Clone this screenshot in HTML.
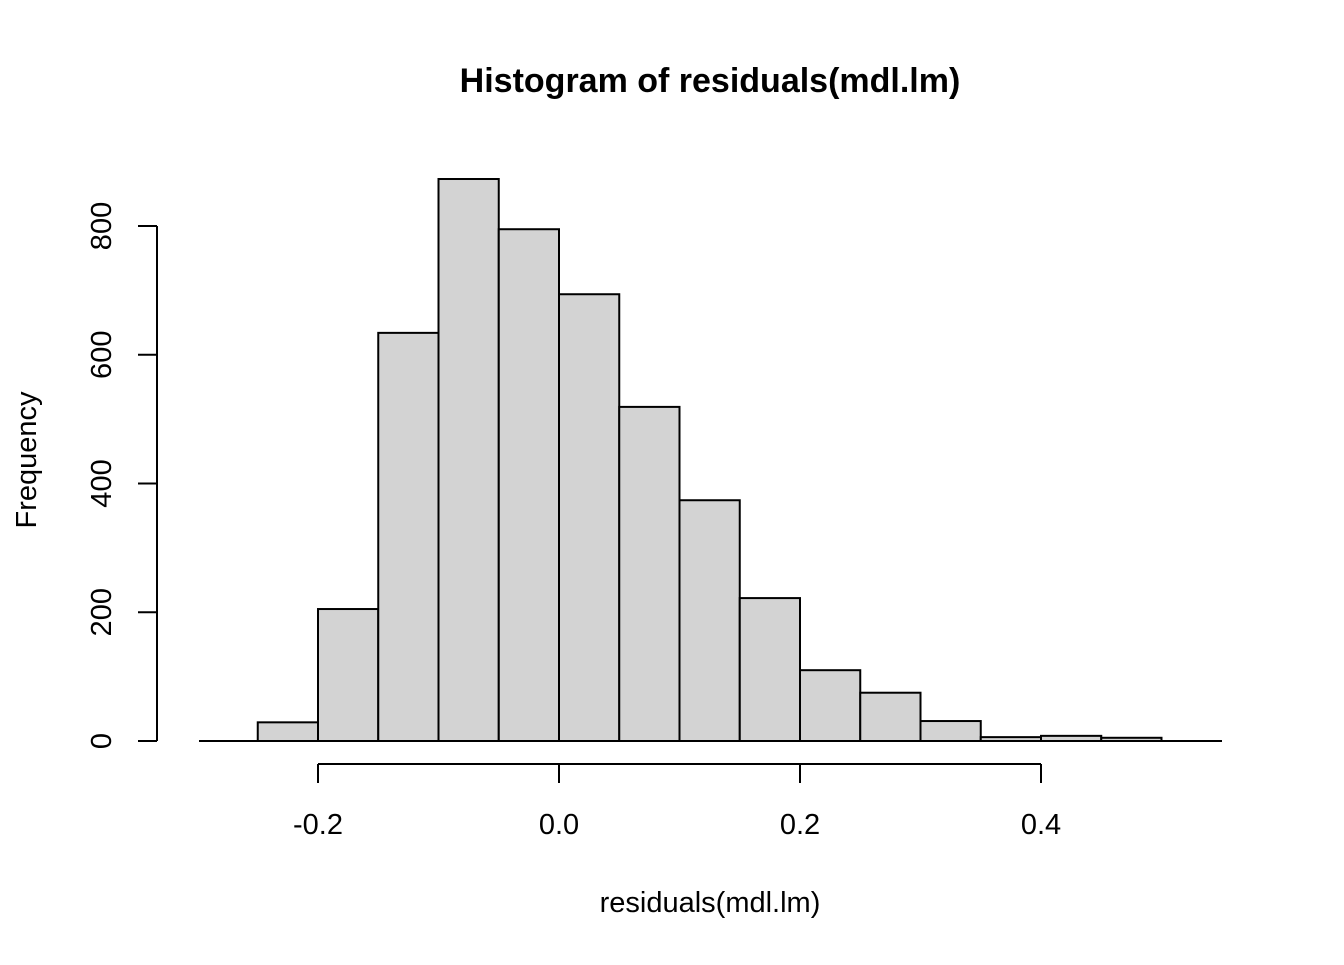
<!DOCTYPE html>
<html><head><meta charset="utf-8"><style>
body{margin:0;background:#fff}
svg text{font-family:"Liberation Sans",Arial,sans-serif;fill:#000}
</style></head><body>
<svg id="chart" width="1344" height="960" viewBox="0 0 1344 960">
<text x="710" y="92" font-size="34" font-weight="bold" text-anchor="middle">Histogram of residuals(mdl.lm)</text>
<g id="bars"></g>
<line x1="199" y1="741" x2="1222" y2="741" stroke="#000" stroke-width="2"/>
<g id="xaxis"></g>
<g id="yaxis"></g>
<text x="710" y="912" font-size="29" text-anchor="middle">residuals(mdl.lm)</text>
<text x="0" y="0" font-size="29" text-anchor="middle" transform="translate(36,460) rotate(-90)">Frequency</text>
</svg>
<script>
const binStarts=[-0.25,-0.2,-0.15,-0.1,-0.05,0,0.05,0.1,0.15,0.2,0.25,0.3,0.35,0.4,0.45];
const counts=[29,205,634,873,795,694,519,374,222,110,75,31,6,8,5];
const binWidth=0.05;
const xTicks=[-0.2,0,0.2,0.4];
const xTickLabels=["-0.2","0.0","0.2","0.4"];
const yTicks=[0,200,400,600,800];
const yTickLabels=["0","200","400","600","800"];
const NS="http://www.w3.org/2000/svg";
const xs=v=>559+v*1205;
const ys=v=>741-v*0.64375;
function mk(tag,attrs,parent){const e=document.createElementNS(NS,tag);for(const k in attrs)e.setAttribute(k,attrs[k]);parent.appendChild(e);return e;}
const bars=document.getElementById('bars');
binStarts.forEach((b,i)=>{
 const x0=xs(b),x1=xs(b+binWidth),y=ys(counts[i]);
 const r=mk('rect',{x:x0,y:y,width:x1-x0,height:741-y,fill:'#d3d3d3',stroke:'#000','stroke-width':2},bars);
 
 
});
const xa=document.getElementById('xaxis');
let l=mk('line',{x1:xs(xTicks[0]),x2:xs(xTicks[xTicks.length-1]),y1:764,y2:764,stroke:'#000','stroke-width':2},xa);


xTicks.forEach((t,i)=>{
 const tk=mk('line',{x1:xs(t),x2:xs(t),y1:764,y2:783,stroke:'#000','stroke-width':2},xa);
 
 
 const tx=mk('text',{x:xs(t),y:834,'font-size':29,'text-anchor':'middle'},xa);
 tx.textContent=xTickLabels[i];
 
 
});
const ya=document.getElementById('yaxis');
l=mk('line',{x1:157,x2:157,y1:ys(yTicks[0]),y2:ys(yTicks[yTicks.length-1]),stroke:'#000','stroke-width':2},ya);


yTicks.forEach((t,i)=>{
 const tk=mk('line',{x1:138,x2:157,y1:ys(t),y2:ys(t),stroke:'#000','stroke-width':2},ya);
 
 
 const tx=mk('text',{x:0,y:0,'font-size':29,'text-anchor':'middle',transform:`translate(111,${ys(t)}) rotate(-90)`},ya);
 tx.textContent=yTickLabels[i];
 
 
});
</script>
</body></html>
